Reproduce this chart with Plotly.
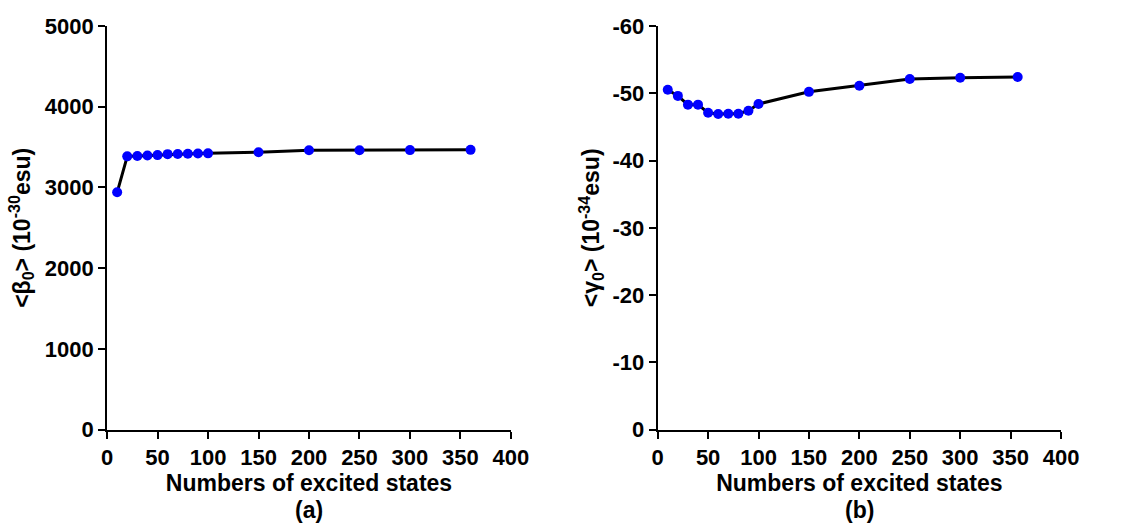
import plotly.graph_objects as go

# Panel (a): first hyperpolarizability vs. number of excited states
states_a = [10, 20, 30, 40, 50, 60, 70, 80, 90, 100, 150, 200, 250, 300, 360]
beta0 = [2940, 3385, 3390, 3395, 3400, 3412, 3415, 3418, 3420, 3422, 3436, 3460, 3461, 3462, 3465]

# Panel (b): second hyperpolarizability vs. number of excited states
states_b = [10, 20, 30, 40, 50, 60, 70, 80, 90, 100, 150, 200, 250, 300, 357]
gamma0 = [-50.5, -49.6, -48.3, -48.3, -47.1, -46.9, -46.95, -46.95, -47.4, -48.4,
          -50.2, -51.1, -52.1, -52.3, -52.4]

x_ticks = [0, 50, 100, 150, 200, 250, 300, 350, 400]
ya_ticks = [0, 1000, 2000, 3000, 4000, 5000]
yb_ticks = [0, -10, -20, -30, -40, -50, -60]
yb_labels = ["0", "-10", "-20", "-30", "-40", "-50", "-60"]

FONT = "Liberation Sans"
tickfont = dict(family=FONT, size=22, color="black", weight="bold")
titlefont = dict(family=FONT, size=23, color="black", weight="bold")

line_style = dict(color="black", width=3)
marker_style = dict(color="#0000ff", size=10)

fig = go.Figure()
fig.add_trace(go.Scatter(x=states_a, y=beta0, mode="lines+markers",
                         line=line_style, marker=marker_style,
                         xaxis="x", yaxis="y", showlegend=False))
fig.add_trace(go.Scatter(x=states_b, y=gamma0, mode="lines+markers",
                         line=line_style, marker=marker_style,
                         xaxis="x2", yaxis="y2", showlegend=False))

axis_common = dict(showgrid=False, zeroline=False, showline=True, linecolor="black",
                   linewidth=2, ticks="outside", ticklen=7, tickwidth=2,
                   tickcolor="black", tickfont=tickfont, automargin=False)

y_dom = [0.186, 0.951]
fig.update_layout(
    width=1121, height=528, autosize=False,
    margin=dict(l=0, r=0, t=0, b=0, pad=0, autoexpand=False),
    paper_bgcolor="white", plot_bgcolor="white",
    xaxis=dict(domain=[0.0955, 0.4558], range=[0, 400], tickvals=x_ticks,
               anchor="y",
               title=dict(text="Numbers of excited states", font=titlefont, standoff=4),
               **axis_common),
    yaxis=dict(domain=y_dom, range=[0, 5000], tickvals=ya_ticks, anchor="x",
               title=dict(text="&lt;β<sub>0</sub>&gt; (10<sup>-30</sup>esu)",
                          font=titlefont, standoff=8),
               **axis_common),
    xaxis2=dict(domain=[0.5867, 0.9465], range=[0, 400], tickvals=x_ticks,
                anchor="y2",
                title=dict(text="Numbers of excited states", font=titlefont, standoff=4),
                **axis_common),
    yaxis2=dict(domain=y_dom, range=[0, -60], tickvals=yb_ticks, ticktext=yb_labels,
                anchor="x2",
                title=dict(text="&lt;γ<sub>0</sub>&gt; (10<sup>-34</sup>esu)",
                           font=titlefont, standoff=6),
                **axis_common),
    annotations=[
        dict(text="(a)", x=200, y=0.034, xref="x", yref="paper", yanchor="middle",
             showarrow=False,
             font=dict(family=FONT, size=23, color="black", weight="bold")),
        dict(text="(b)", x=200, y=0.034, xref="x2", yref="paper", yanchor="middle",
             showarrow=False,
             font=dict(family=FONT, size=23, color="black", weight="bold")),
    ],
)

fig.write_html("out.html")
